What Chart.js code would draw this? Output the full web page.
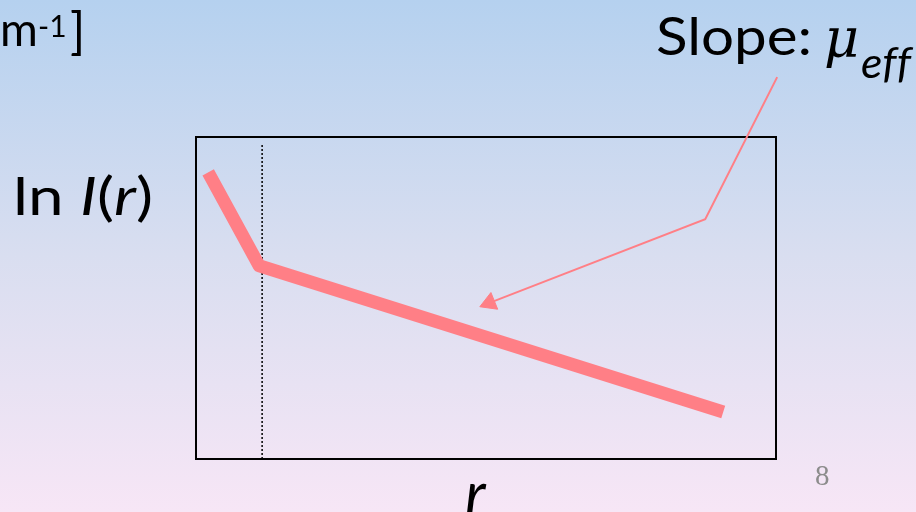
<!DOCTYPE html>
<html>
<head>
<meta charset="utf-8">
<script src="https://cdn.jsdelivr.net/npm/chart.js@4.4.0/dist/chart.umd.min.js"></script>
<style>
  html, body { margin: 0; padding: 0; overflow: hidden; }
  canvas { display: block; }
</style>
</head>
<body>
<canvas id="slideChart" width="916" height="512"></canvas>
<script>
// ln I(r) against r (box spans 0..10 on both axes)
const rValues = [0.21, 1.09, 9.09];
const lnIValues = [8.9, 6.0, 1.46];

// dotted marker where the slope changes
const cutoffR = [1.14, 1.14];
const cutoffLnI = [0, 9.8];

// callout arrow from the "Slope" label down to the line
const arrowR = [10.02, 8.78, 5.06];
const arrowLnI = [11.86, 7.45, 4.85];

const axisMin = 0;
const axisMax = 10;

const lineColor = '#ff7f86';
const SANS = 'Lato, "Open Sans", sans-serif';

function toPoints(xs, ys) {
    return xs.map((x, i) => ({ x: x, y: ys[i] }));
}

const slideBackground = {
    id: 'slideBackground',
    beforeDraw(chart) {
        const { ctx, width, height } = chart;
        const grad = ctx.createLinearGradient(0, 0, 0, height);
        grad.addColorStop(0, '#b5d1ef');
        grad.addColorStop(0.5, '#d9def0');
        grad.addColorStop(1, '#f7e6f6');
        ctx.save();
        ctx.fillStyle = grad;
        ctx.fillRect(0, 0, width, height);
        ctx.restore();
    }
};

const plotFrame = {
    id: 'plotFrame',
    beforeDatasetsDraw(chart) {
        const { ctx, chartArea: a } = chart;
        ctx.save();
        ctx.strokeStyle = '#000';
        ctx.lineWidth = 2;
        ctx.strokeRect(a.left, a.top, a.right - a.left, a.bottom - a.top);
        ctx.restore();
    }
};

// draws text pieces one after another, squeezed to a given width if asked
function drawRuns(ctx, runs, x, y, width) {
    let total = 0;
    runs.forEach(run => {
        ctx.font = run.font;
        total += ctx.measureText(run.text).width;
    });
    const sx = width ? width / total : 1;
    ctx.save();
    ctx.translate(x, y);
    ctx.scale(sx, 1);
    let cx = 0;
    runs.forEach(run => {
        ctx.font = run.font;
        ctx.fillText(run.text, cx, run.dy || 0);
        cx += ctx.measureText(run.text).width;
    });
    ctx.restore();
}

const slideText = {
    id: 'slideText',
    afterDraw(chart) {
        const ctx = chart.ctx;
        ctx.save();
        ctx.fillStyle = '#000';
        ctx.textBaseline = 'alphabetic';

        // leftover of the unit label from the slide above
        ctx.font = `46px ${SANS}`;
        ctx.fillText('m', 0, 46);
        ctx.font = `30px ${SANS}`;
        ctx.fillText('-1', 38, 37);
        ctx.font = `50px ${SANS}`;
        ctx.fillText(']', 70, 49);

        // y label
        drawRuns(ctx, [
            { text: 'ln ', font: `52px ${SANS}` },
            { text: 'I', font: `italic 52px ${SANS}` },
            { text: '(', font: `52px ${SANS}` },
            { text: 'r', font: `italic 52px ${SANS}` },
            { text: ')', font: `52px ${SANS}` }
        ], 13, 215, 140);

        // slope callout
        drawRuns(ctx, [{ text: 'Slope:', font: `52px ${SANS}` }], 656, 55, 156);
        ctx.font = 'italic 54px "DejaVu Serif", serif';
        ctx.fillText('\u03bc', 824, 57);
        // letters drawn one by one so the ff ligature is not used
        const sub = `italic 42px ${SANS}`;
        drawRuns(ctx, [
            { text: 'e', font: sub },
            { text: 'f', font: sub },
            { text: 'f', font: sub }
        ], 861, 78, 50);

        // x label
        ctx.font = `italic 60px ${SANS}`;
        ctx.fillText('r', 465, 515);

        // slide number
        ctx.fillStyle = '#8c8c8c';
        ctx.font = '29px "Liberation Serif", serif';
        ctx.fillText('8', 815, 485);
        ctx.restore();
    }
};

new Chart(document.getElementById('slideChart'), {
    type: 'scatter',
    data: {
        datasets: [
            {
                label: 'ln I(r)',
                data: toPoints(rValues, lnIValues),
                showLine: true,
                borderColor: lineColor,
                borderWidth: 13,
                borderCapStyle: 'butt',
                borderJoinStyle: 'round',
                pointRadius: 0,
                pointHoverRadius: 0,
                tension: 0
            },
            {
                label: 'cutoff',
                data: toPoints(cutoffR, cutoffLnI),
                showLine: true,
                borderColor: '#000',
                borderWidth: 1.5,
                borderDash: [2, 2],
                pointRadius: 0,
                pointHoverRadius: 0
            },
            {
                label: 'arrow',
                data: toPoints(arrowR, arrowLnI),
                showLine: true,
                clip: false,
                borderColor: lineColor,
                borderWidth: 2,
                pointStyle: 'triangle',
                pointRadius: [0, 0, 10.4],
                pointHoverRadius: 0,
                pointRotation: 248,
                pointBackgroundColor: lineColor,
                pointBorderColor: lineColor,
                pointBorderWidth: 1
            }
        ]
    },
    options: {
        responsive: false,
        animation: false,
        events: [],
        layout: { padding: { left: 196, right: 140, top: 137, bottom: 53 } },
        scales: {
            x: { type: 'linear', min: axisMin, max: axisMax, display: false },
            y: { type: 'linear', min: axisMin, max: axisMax, display: false }
        },
        plugins: {
            legend: { display: false },
            tooltip: { enabled: false }
        }
    },
    plugins: [slideBackground, plotFrame, slideText]
});
</script>
</body>
</html>
